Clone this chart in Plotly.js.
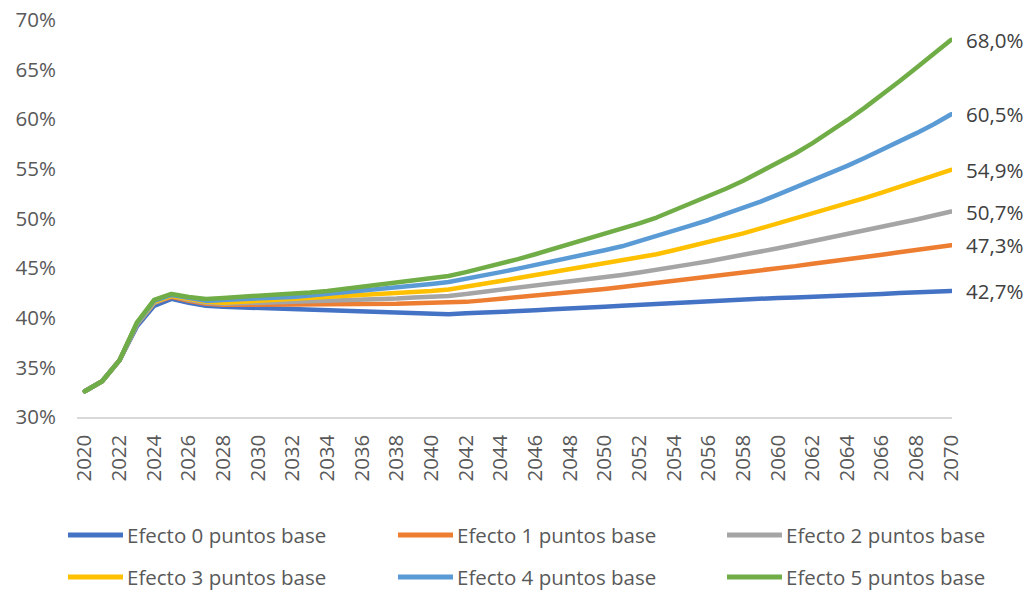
<!DOCTYPE html>
<html>
<head>
<meta charset="utf-8">
<script src="https://cdn.plot.ly/plotly-3.0.1.min.js"></script>
<style>
  html, body { margin: 0; padding: 0; background: #ffffff; }
  #chart { width: 1032px; height: 590px; }
  path.js-line { stroke-linecap: round; stroke-linejoin: round; }
</style>
</head>
<body>
<div id="chart"></div>
<script>
// ---- Data ----
const years = [];
for (let y = 2020; y <= 2070; y++) years.push(y);

const seriesNames = [
  "Efecto 0 puntos base",
  "Efecto 1 puntos base",
  "Efecto 2 puntos base",
  "Efecto 3 puntos base",
  "Efecto 4 puntos base",
  "Efecto 5 puntos base"
];

const seriesColors = ["#4472C4", "#ED7D31", "#A5A5A5", "#FFC000", "#5B9BD5", "#70AD47"];

// Values in % (2020 ... 2070)
const efecto0 = [32.6, 33.6, 35.7, 39.1, 41.2, 41.9, 41.5, 41.2, 41.1, 41.05,
  41.0, 40.9, 40.85, 40.8, 40.75, 40.7, 40.65, 40.6, 40.55, 40.45,
  40.4, 40.35, 40.45, 40.5, 40.6, 40.7, 40.75, 40.85, 40.9, 41.0,
  41.1, 41.2, 41.3, 41.35, 41.45, 41.55, 41.65, 41.75, 41.8, 41.9,
  42.0, 42.05, 42.1, 42.2, 42.3, 42.35, 42.4, 42.5, 42.55, 42.6, 42.7];

const efecto1 = [32.6, 33.6, 35.7, 39.3, 41.5, 42.1, 41.7, 41.4, 41.3, 41.3,
  41.3, 41.3, 41.3, 41.3, 41.3, 41.35, 41.35, 41.4, 41.4, 41.45,
  41.5, 41.5, 41.6, 41.75, 41.9, 42.05, 42.2, 42.35, 42.5, 42.7,
  42.9, 43.1, 43.3, 43.5, 43.7, 43.9, 44.1, 44.35, 44.55, 44.8,
  45.0, 45.2, 45.45, 45.65, 45.9, 46.1, 46.35, 46.6, 46.8, 47.05, 47.3];

const efecto2 = [32.6, 33.6, 35.7, 39.3, 41.5, 42.2, 41.8, 41.5, 41.4, 41.45,
  41.5, 41.5, 41.55, 41.6, 41.7, 41.75, 41.8, 41.9, 41.95, 42.05,
  42.1, 42.2, 42.4, 42.6, 42.8, 43.0, 43.2, 43.4, 43.6, 43.8,
  44.05, 44.3, 44.55, 44.8, 45.1, 45.4, 45.7, 46.0, 46.3, 46.65,
  47.0, 47.35, 47.7, 48.05, 48.4, 48.75, 49.1, 49.5, 49.9, 50.3, 50.7];

const efecto3 = [32.6, 33.6, 35.7, 39.4, 41.6, 42.2, 41.9, 41.6, 41.5, 41.6,
  41.65, 41.7, 41.8, 41.9, 42.0, 42.1, 42.2, 42.3, 42.45, 42.55,
  42.7, 42.85, 43.1, 43.4, 43.7, 44.0, 44.3, 44.6, 44.9, 45.15,
  45.4, 45.7, 46.05, 46.4, 46.8, 47.2, 47.6, 48.0, 48.5, 49.0,
  49.5, 49.95, 50.45, 50.95, 51.5, 52.05, 52.6, 53.15, 53.7, 54.3, 54.9];

const efecto4 = [32.6, 33.6, 35.7, 39.4, 41.7, 42.3, 42.0, 41.7, 41.8, 41.85,
  41.9, 42.0, 42.1, 42.25, 42.4, 42.55, 42.7, 42.85, 43.05, 43.2,
  43.4, 43.6, 43.9, 44.25, 44.6, 44.95, 45.3, 45.7, 46.05, 46.4,
  46.8, 47.2, 47.7, 48.2, 48.75, 49.3, 49.85, 50.45, 51.05, 51.7,
  52.4, 53.1, 53.8, 54.55, 55.3, 56.1, 56.9, 57.75, 58.6, 59.5, 60.5];

const efecto5 = [32.6, 33.6, 35.7, 39.5, 41.8, 42.4, 42.1, 41.9, 42.0, 42.1,
  42.15, 42.25, 42.4, 42.55, 42.7, 42.9, 43.1, 43.3, 43.5, 43.7,
  43.9, 44.2, 44.6, 45.0, 45.45, 45.9, 46.4, 46.9, 47.4, 47.9,
  48.4, 48.9, 49.5, 50.1, 50.8, 51.5, 52.2, 53.0, 53.8, 54.7,
  55.6, 56.55, 57.6, 58.7, 59.9, 61.15, 62.45, 63.8, 65.2, 66.6, 68.0];

const allSeries = [efecto0, efecto1, efecto2, efecto3, efecto4, efecto5];

const yTickVals = [30, 35, 40, 45, 50, 55, 60, 65, 70];
const xTickVals = [];
for (let y = 2020; y <= 2070; y += 2) xTickVals.push(y);

// ---- Layout geometry (pixels) ----
const W = 1032, H = 590;
const M = { l: 77, r: 80, t: 20, b: 173 };
const plotW = W - M.l - M.r;
const plotH = H - M.t - M.b;
const px2x = px => (px - M.l) / plotW;
const px2y = py => (H - M.b - py) / plotH;

const FONT = "Open Sans, DejaVu Sans, sans-serif";
const FS = 20.5;

// ---- Traces ----
const traces = allSeries.map((vals, i) => ({
  type: "scatter",
  mode: "lines",
  x: years,
  y: vals,
  name: seriesNames[i],
  line: { color: seriesColors[i], width: 4.5 },
  showlegend: false,
  hoverinfo: "skip"
}));

// ---- End-value labels ----
const annotations = allSeries.map((vals, i) => ({
  x: years[years.length - 1],
  y: vals[vals.length - 1],
  xref: "x", yref: "y",
  text: vals[vals.length - 1].toFixed(1).replace(".", ",") + "%",
  showarrow: false,
  xanchor: "left",
  yanchor: "middle",
  xshift: 13,
  font: { family: FONT, size: FS, color: "#404040" }
}));

// ---- Custom legend (3 columns x 2 rows) ----
const legCols = [68, 398, 727];
const legRows = [535, 577];
const shapes = [];
seriesNames.forEach((name, i) => {
  const cx = legCols[i % 3];
  const cy = legRows[Math.floor(i / 3)];
  shapes.push({
    type: "line", xref: "paper", yref: "paper",
    x0: px2x(cx), x1: px2x(cx + 55), y0: px2y(cy), y1: px2y(cy),
    line: { color: seriesColors[i], width: 5 }
  });
  annotations.push({
    xref: "paper", yref: "paper",
    x: px2x(cx + 57), y: px2y(cy),
    xanchor: "left", yanchor: "middle",
    text: name, showarrow: false,
    font: { family: FONT, size: FS, color: "#595959" }
  });
});

const layout = {
  width: W, height: H,
  margin: M,
  paper_bgcolor: "#ffffff",
  plot_bgcolor: "#ffffff",
  showlegend: false,
  font: { family: FONT, size: FS, color: "#595959" },
  xaxis: {
    range: [2019.55, 2070.05],
    tickvals: xTickVals,
    ticktext: xTickVals.map(String),
    tickangle: -90,
    showgrid: false,
    zeroline: false,
    showline: true,
    linecolor: "#d9d9d9",
    linewidth: 1.5,
    ticks: "",
    ticklabelstandoff: 8,
    tickfont: { family: FONT, size: FS, color: "#595959" },
    fixedrange: true
  },
  yaxis: {
    range: [30, 70],
    tickvals: yTickVals,
    ticktext: yTickVals.map(v => v + "%"),
    showgrid: false,
    zeroline: false,
    showline: false,
    ticks: "",
    ticklabelstandoff: 20,
    tickfont: { family: FONT, size: FS, color: "#595959" },
    fixedrange: true
  },
  annotations: annotations,
  shapes: shapes
};

Plotly.newPlot("chart", traces, layout, { displayModeBar: false, staticPlot: true });
</script>
</body>
</html>
